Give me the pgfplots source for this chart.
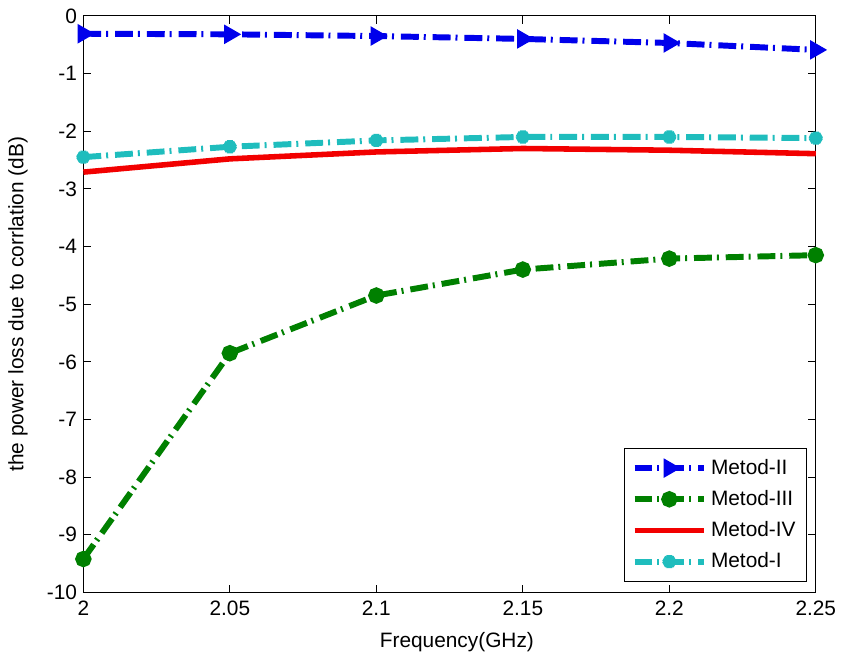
\documentclass[border=0pt]{standalone}
\usepackage{pgfplots}
\pgfplotsset{compat=1.18}
\usepackage{fontspec}
\setmainfont{Liberation Sans}

\definecolor{mblue}{rgb}{0,0,0.92}
\definecolor{mgreen}{rgb}{0,0.5,0}
\definecolor{mred}{rgb}{0.95,0,0}
\definecolor{mcyan}{rgb}{0.12,0.74,0.74}

\begin{document}
\begin{tikzpicture}
\begin{axis}[
    scale only axis,
    width=369pt,
    height=290.5pt,
    xmin=2, xmax=2.25,
    ymin=-10, ymax=0,
    xtick={2,2.05,2.1,2.15,2.2,2.25},
    xticklabels={2,2.05,2.1,2.15,2.2,2.25},
    ytick={-10,-9,-8,-7,-6,-5,-4,-3,-2,-1,0},
    yticklabels={-10,-9,-8,-7,-6,-5,-4,-3,-2,-1,0},
    tick align=inside,
    major tick length=4pt,
    tick style={black, line width=0.5pt},
    axis line style={line width=0.6pt},
    ticklabel style={font=\fontsize{10.5}{12}\selectfont},
    yticklabel style={inner sep=3pt},
    xticklabel style={inner sep=4pt},
    xlabel={Frequency(GHz)},
    ylabel={the power loss due to corrlation (dB)},
    label style={font=\fontsize{10.5}{12}\selectfont},
    xlabel style={at={(rel axis cs:0.51,0)}, anchor=base, yshift=-27.5pt},
    ylabel style={at={(rel axis cs:-0.0894,0.5)}, anchor=center},
    clip=false,
    legend style={at={(0.988,0.018)}, anchor=south east,
        font=\fontsize{10.5}{12}\selectfont, draw=black, line width=0.5pt,
        inner xsep=3.5pt, inner ysep=3.5pt, row sep=2.6pt},
    legend cell align=left,
    legend image code/.code={
        \draw[mark repeat=2, mark phase=2, #1] plot coordinates {(0cm,0cm) (0.615cm,0cm) (1.23cm,0cm)};
    },
    every axis plot/.append style={line width=3pt},
    mcdash/.style={dash pattern=on 9pt off 2.5pt on 1pt off 3.5pt},
]
\coordinate (bl) at (rel axis cs:0,0);
\addplot[mblue, mcdash, mark=triangle*, mark size=2.7pt, mark options={solid, rotate=-90}]
coordinates {(2,-0.31) (2.05,-0.32) (2.1,-0.35) (2.15,-0.40) (2.2,-0.47) (2.25,-0.59)};
\addlegendentry{Metod-II}
\addplot[mgreen, mcdash, mark=*, mark size=2.6pt, mark options={solid}]
coordinates {(2,-9.42) (2.05,-5.85) (2.1,-4.85) (2.15,-4.40) (2.2,-4.21) (2.25,-4.15)};
\addlegendentry{Metod-III}
\addplot[mred, solid, line width=2.8pt]
coordinates {(2,-2.71) (2.05,-2.48) (2.1,-2.36) (2.15,-2.30) (2.2,-2.33) (2.25,-2.39)};
\addlegendentry{Metod-IV}
\addplot[mcyan, mcdash, mark=asterisk, mark size=3.3pt, mark options={solid}]
coordinates {(2,-2.45) (2.05,-2.27) (2.1,-2.16) (2.15,-2.10) (2.2,-2.10) (2.25,-2.12)};
\addlegendentry{Metod-I}
\end{axis}
\path ([shift={(-42pt,-32pt)}]bl) rectangle ([shift={(380pt,298.5pt)}]bl);
\end{tikzpicture}
\end{document}
